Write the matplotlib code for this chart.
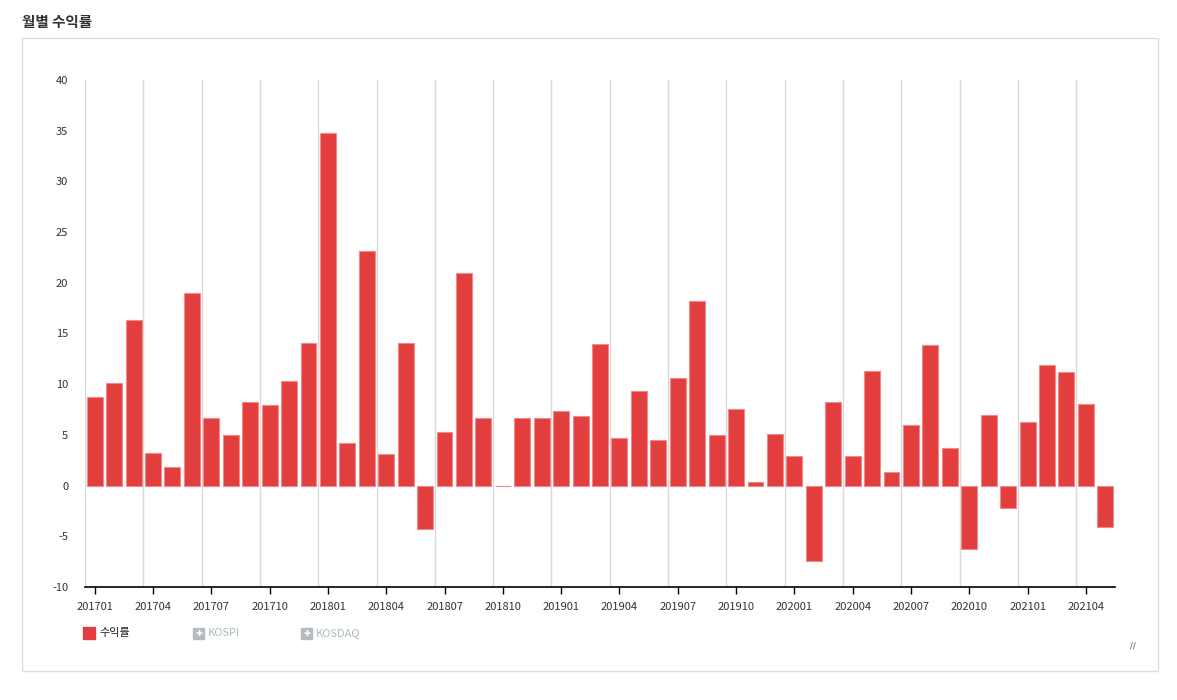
import matplotlib.pyplot as plt
from matplotlib.patches import Rectangle

plt.rcParams['font.family'] = ['Noto Sans CJK KR', 'DejaVu Sans']
plt.rcParams['axes.unicode_minus'] = False

months = []
for y in range(2017, 2022):
    for m in range(1, 13):
        if y == 2021 and m > 5:
            break
        months.append('%d%02d' % (y, m))

returns = [8.7, 10.1, 16.3, 3.2, 1.8, 19.0, 6.7, 5.0, 8.2, 7.9, 10.3, 14.1,
           34.8, 4.2, 23.1, 3.1, 14.1, -4.3, 5.3, 21.0, 6.7, 0.0, 6.7, 6.7,
           7.4, 6.9, 14.0, 4.7, 9.3, 4.5, 10.6, 18.2, 5.0, 7.6, 0.4, 5.1,
           2.9, -7.4, 8.2, 2.9, 11.3, 1.3, 6.0, 13.9, 3.7, -6.3, 7.0, -2.2,
           6.3, 11.9, 11.2, 8.0, -4.1]

legend_labels = ['수익률', 'KOSPI', 'KOSDAQ']

W, H = 1177, 700
fig = plt.figure(figsize=(W / 100, H / 100), dpi=100)

# outer panel box
fig.patches.append(Rectangle((22 / W, 1 - 671 / H), (1158 - 22) / W, (671 - 38) / H,
                             transform=fig.transFigure, fill=False,
                             edgecolor='#dddddd', linewidth=1))
fig.text(22 / W, 1 - 22 / H, '월별 수익률', fontsize=10.5, fontweight='bold',
         color='#333333', va='center', ha='left')

ax = fig.add_axes([85 / W, 1 - 587 / H, (1115 - 85) / W, (587 - 80) / H])
x = list(range(len(months)))
ax.bar(x, returns, width=0.82, color='#e33e3e', edgecolor='#f08a8a', linewidth=0.8, zorder=3)

ax.set_xlim(-0.5, len(months) - 0.5)
ax.set_ylim(-10, 40)
ax.set_yticks(range(-10, 41, 5))
ticks = x[::3]
ax.set_xticks(ticks)
ax.set_xticklabels([months[i] for i in ticks])
for i in ticks:
    ax.axvline(i - 0.5, color='#d9d9d9', linewidth=1, zorder=1)

for s in ['top', 'right', 'left']:
    ax.spines[s].set_visible(False)
ax.spines['bottom'].set_color('#000000')
ax.spines['bottom'].set_linewidth(1.2)
ax.spines['bottom'].set_zorder(4)
ax.tick_params(axis='y', length=0, pad=12, labelsize=8, labelcolor='#333333')
ax.tick_params(axis='x', length=5, width=1, pad=6, labelsize=8, labelcolor='#333333')

# legend
ly = 1 - 633 / H
fig.patches.append(Rectangle((83 / W, ly - 6 / H), 12 / W, 12 / H,
                             transform=fig.transFigure, color='#e33e3e'))
fig.text(99 / W, ly, legend_labels[0], fontsize=8, color='#222222', va='center')
for lx, lab in [(193, legend_labels[1]), (301, legend_labels[2])]:
    fig.patches.append(Rectangle((lx / W, ly - 6 / H), 11 / W, 11 / H,
                                 transform=fig.transFigure, color='#b5bcbf'))
    fig.text((lx + 5.5) / W, ly - 0.5 / H, '✚', fontsize=6, color='white',
             ha='center', va='center', family=['DejaVu Sans'])
    fig.text((lx + 15) / W, ly, lab, fontsize=8, color='#a9bcc2', va='center')

# resize grip
fig.text(1133 / W, 1 - 646 / H, '//', fontsize=6, color='#555555', ha='center', va='center',
         family=['DejaVu Sans'])

fig.savefig('out.png', dpi=100)
